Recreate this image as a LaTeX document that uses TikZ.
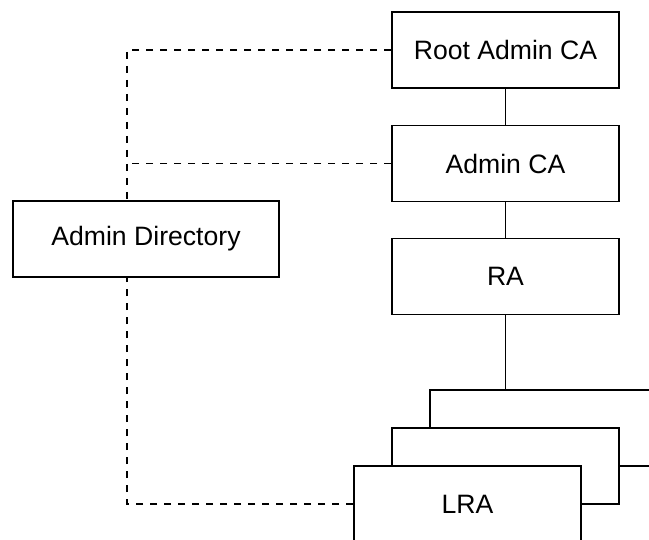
\documentclass[tikz,border=0pt]{standalone}
\usepackage{fontspec}
\setmainfont{Liberation Sans}
\begin{document}
\begin{tikzpicture}[x=1pt,y=-1pt,
  box/.style={draw, line width=1.6pt, fill=white, minimum width=227pt, minimum height=76pt, inner sep=0pt, font=\fontsize{26.6}{30}\selectfont},
  link/.style={line width=1.6pt},
  dlink/.style={line width=1.6pt, dash pattern=on 7pt off 7pt}]
\useasboundingbox (0,0) rectangle (649,540);
\clip (0,0) rectangle (649,540);
\coordinate (bus) at (127,0);
\node[box] (root) at (505.5,50) {Root Admin CA};
\node[box] (admin) at (505.5,163.5) {Admin CA};
\node[box] (ra) at (505.5,276.5) {RA};
\node[box, minimum width=266pt] (dir) at (146,239) {Admin Directory};
\node[box] (back) at (543.5,428) {};
\node[box] (mid) at (505.5,466) {};
\node[box] (lra) at (467.5,504) {LRA};
\draw[link] (root.south) -- (admin.north);
\draw[link] (admin.south) -- (ra.north);
\draw[link] (ra.south) -- (ra.south |- back.north);
\draw[dlink] (root.west) -| (dir.north -| bus);
\draw[dlink] (admin.west) -- (admin.west -| bus);
\draw[dlink] (lra.west) -| (dir.south -| bus);
\end{tikzpicture}
\end{document}
